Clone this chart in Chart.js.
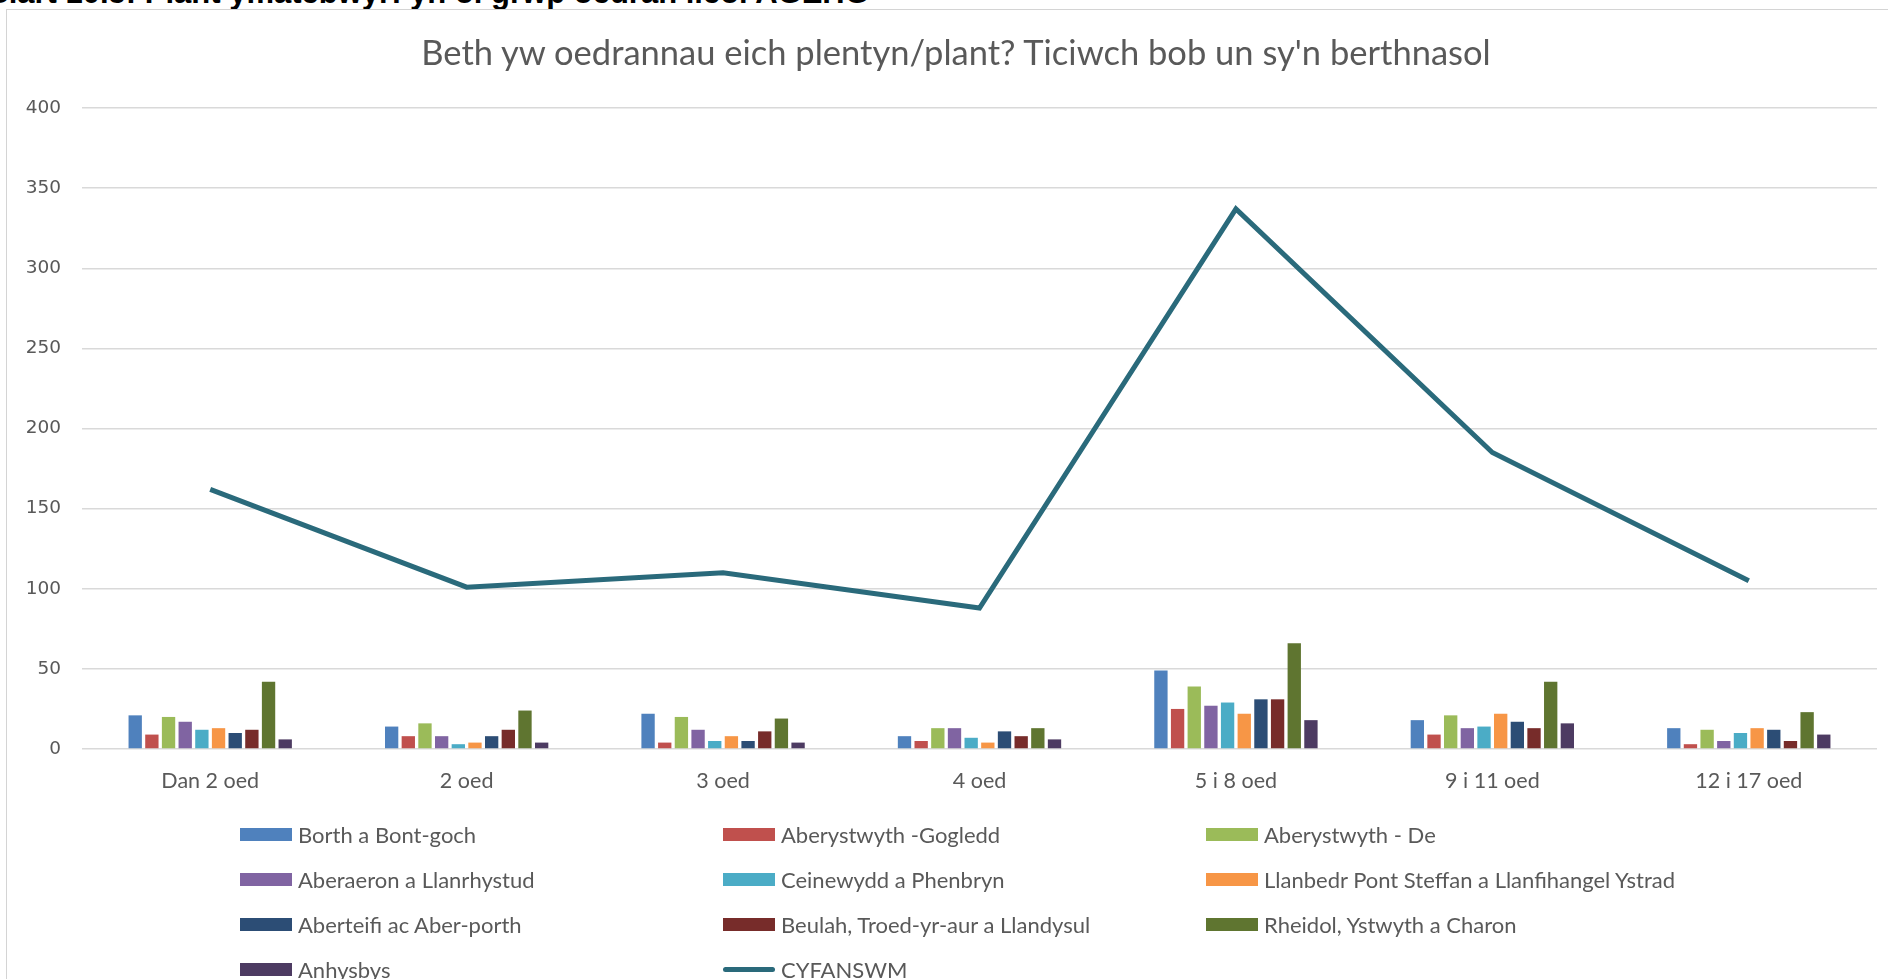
<!DOCTYPE html>
<html>
<head>
<meta charset="utf-8">
<script src="https://cdn.jsdelivr.net/npm/chart.js@4.4.1/dist/chart.umd.min.js"></script>
<style>
  html, body { margin: 0; padding: 0; background: #fff; overflow: hidden; }
  body { width: 1888px; height: 979px; position: relative; }
  #pennawd {
    position: absolute; left: -12px; top: -23px; margin: 0;
    font: bold 31px "Liberation Sans", Arial, sans-serif; line-height: 31px;
    color: #000; white-space: nowrap;
  }
  #blwch {
    position: absolute; left: 6px; top: 9px; width: 1900px; height: 1000px;
    border: 1px solid #d4d4d4; box-sizing: border-box;
  }
  #graff { position: absolute; left: 0; top: 0; }
  #teitl {
    position: absolute; left: 6px; top: 32px; width: 1900px; text-align: center;
    font-family: Lato, sans-serif; font-size: 34.5px; line-height: 40px; color: #595959;
    white-space: nowrap;
  }
  #allwedd {
    position: absolute; left: 240px; top: 812px;
    display: grid; grid-template-columns: 483px 483px 483px; grid-auto-rows: 45px;
    font-family: Lato, sans-serif; font-size: 22px; color: #595959;
  }
  .eitem { display: flex; align-items: center; white-space: nowrap; }
  .sw { width: 52px; height: 13px; margin-right: 6px; flex: none; }
  .sw.llinell { height: 5px; border-radius: 3px; }
</style>
</head>
<body>
<div id="pennawd">Siart 10.5: Plant ymatebwyr: yn ôl grŵp oedran lleol AGEHG</div>
<div id="blwch">
  <canvas id="graff" width="1898" height="990"></canvas>
</div>
<div id="teitl">Beth yw oedrannau eich plentyn/plant? Ticiwch bob un sy'n berthnasol</div>
<div id="allwedd"></div>
<script>
// grwpiau oedran
const oedrannau = ['Dan 2 oed', '2 oed', '3 oed', '4 oed', '5 i 8 oed', '9 i 11 oed', '12 i 17 oed'];

// ardaloedd (un gyfres yr un)
const borth      = [21, 14, 22, 8, 49, 18, 13];
const abGogledd  = [9, 8, 4, 5, 25, 9, 3];
const abDe       = [20, 16, 20, 13, 39, 21, 12];
const aberaeron  = [17, 8, 12, 13, 27, 13, 5];
const ceinewydd  = [12, 3, 5, 7, 29, 14, 10];
const llanbedr   = [13, 4, 8, 4, 22, 22, 13];
const aberteifi  = [10, 8, 5, 11, 31, 17, 12];
const beulah     = [12, 12, 11, 8, 31, 13, 5];
const rheidol    = [42, 24, 19, 13, 66, 42, 23];
const anhysbys   = [6, 4, 4, 6, 18, 16, 9];
const cyfanswm   = [162, 101, 110, 88, 337, 185, 105];

const ticiauY = [0, 50, 100, 150, 200, 250, 300, 350, 400];

const cyfresi = [
    { label: 'Borth a Bont-goch', data: borth, lliw: '#4F81BD' },
    { label: 'Aberystwyth -Gogledd', data: abGogledd, lliw: '#C0504D' },
    { label: 'Aberystwyth - De', data: abDe, lliw: '#9BBB59' },
    { label: 'Aberaeron a Llanrhystud', data: aberaeron, lliw: '#8064A2' },
    { label: 'Ceinewydd a Phenbryn', data: ceinewydd, lliw: '#4BACC6' },
    { label: 'Llanbedr Pont Steffan a Llanfihangel Ystrad', data: llanbedr, lliw: '#F79646' },
    { label: 'Aberteifi ac Aber-porth', data: aberteifi, lliw: '#2C4D75' },
    { label: 'Beulah, Troed-yr-aur a Llandysul', data: beulah, lliw: '#772C2A' },
    { label: 'Rheidol, Ystwyth a Charon', data: rheidol, lliw: '#5F7530' },
    { label: 'Anhysbys', data: anhysbys, lliw: '#4D3B62' }
];

const llwyd = '#595959';

const setiau = cyfresi.map(c => ({
    type: 'bar',
    label: c.label,
    data: c.data,
    backgroundColor: c.lliw,
    borderWidth: 0,
    categoryPercentage: 0.65,
    barPercentage: 0.8,
    order: 1
}));

setiau.push({
    type: 'line',
    label: 'CYFANSWM',
    data: cyfanswm,
    borderColor: '#2A6A7B',
    backgroundColor: '#2A6A7B',
    borderWidth: 5,
    pointRadius: 0,
    tension: 0,
    order: 0
});

const ctx = document.getElementById('graff').getContext('2d');
const siart = new Chart(ctx, {
    data: { labels: oedrannau, datasets: setiau },
    options: {
        responsive: false,
        animation: false,
        layout: { padding: { left: 0, right: 28, top: 98, bottom: 191 } },
        scales: {
            x: {
                grid: { display: false },
                border: { display: false },
                ticks: { color: llwyd, font: { family: 'Lato', size: 21.5 }, padding: 11, maxRotation: 0 },
                afterFit: s => { s.height = 60; }
            },
            y: {
                min: 0,
                max: 400,
                afterBuildTicks: s => { s.ticks = ticiauY.map(v => ({ value: v })); },
                grid: { color: '#d9d9d9', lineWidth: 1.5, drawTicks: false },
                border: { display: false },
                ticks: { color: llwyd, font: { family: 'DejaVu Sans', size: 18.5 }, padding: 21 },
                afterFit: s => { s.width = 75; }
            }
        },
        plugins: {
            legend: { display: false },
            tooltip: { enabled: false },
            title: { display: false }
        }
    }
});

// allwedd HTML mewn tair colofn
const allwedd = document.getElementById('allwedd');
siart.data.datasets.forEach(ds => {
    const eitem = document.createElement('div');
    eitem.className = 'eitem';
    const sw = document.createElement('span');
    sw.className = ds.type === 'line' ? 'sw llinell' : 'sw';
    sw.style.background = ds.type === 'line' ? ds.borderColor : ds.backgroundColor;
    const testun = document.createElement('span');
    testun.textContent = ds.label;
    eitem.appendChild(sw);
    eitem.appendChild(testun);
    allwedd.appendChild(eitem);
});
</script>
</body>
</html>
